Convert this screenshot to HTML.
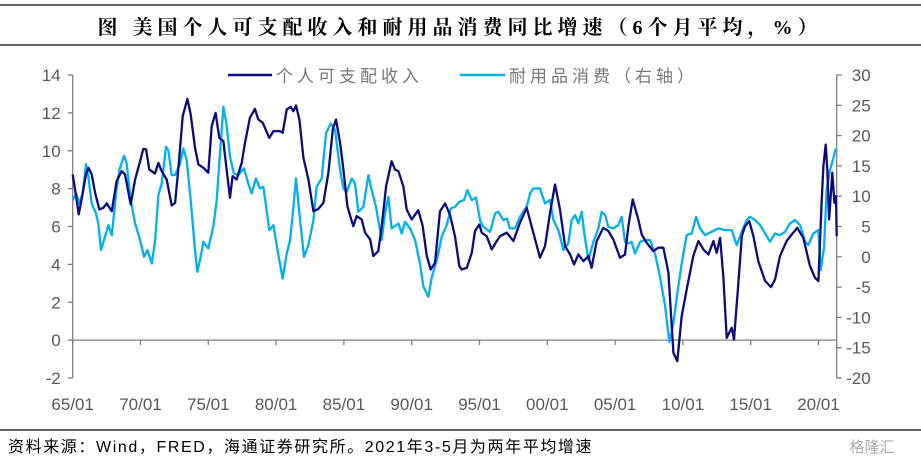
<!DOCTYPE html>
<html><head><meta charset="utf-8">
<style>
html,body{margin:0;padding:0;background:#fff;}
body{width:921px;height:465px;overflow:hidden;position:relative;font-family:"Liberation Sans","Noto Sans CJK SC",sans-serif;}
svg text{font-family:"Liberation Sans","Noto Sans CJK SC",sans-serif;}
</style></head>
<body>
<svg id="chart" width="921" height="465" viewBox="0 0 921 465" xmlns="http://www.w3.org/2000/svg">
  <line x1="0" y1="5" x2="921" y2="5" stroke="#000" stroke-width="1.2"/>
  <text x="460" y="34" text-anchor="middle" font-size="20" font-weight="bold" letter-spacing="5" style="font-family:'Liberation Serif','Noto Serif CJK SC',serif" fill="#000">图  美国个人可支配收入和耐用品消费同比增速（6个月平均，%）</text>
  <line x1="0" y1="45" x2="921" y2="45" stroke="#000" stroke-width="1.2"/>
  <g id="axes"></g>
  <g id="series"></g>
  <g>
    <line x1="228" y1="75" x2="272" y2="75" stroke="#0B0B7F" stroke-width="2.5"/>
    <text x="276" y="82" font-size="17" letter-spacing="4" fill="#777">个人可支配收入</text>
    <line x1="460" y1="75" x2="505" y2="75" stroke="#00B0F0" stroke-width="2.5"/>
    <text x="509" y="82" font-size="17" letter-spacing="4" fill="#777">耐用品消费（右轴）</text>
  </g>
  <line x1="0" y1="430" x2="921" y2="430" stroke="#000" stroke-width="1.2"/>
  <text x="8" y="452" font-size="16" letter-spacing="1.6" fill="#000">资料来源：Wind，FRED，海通证券研究所。2021年3-5月为两年平均增速</text>
  <text x="872" y="452" font-size="15" fill="#aaa" text-anchor="middle">格隆汇</text>
</svg>
<script>
const xTickLabels = ["65/01","70/01","75/01","80/01","85/01","90/01","95/01","00/01","05/01","10/01","15/01","20/01"];
const xTickYears = [1965,1970,1975,1980,1985,1990,1995,2000,2005,2010,2015,2020];
const leftTicks = [14,12,10,8,6,4,2,0,-2];
const rightTicks = [30,25,20,15,10,5,0,-5,-10,-15,-20];
const pdiDates = [1965.00,1965.25,1965.44,1965.66,1965.98,1966.16,1966.40,1966.65,1966.97,1967.26,1967.51,1967.88,1968.24,1968.61,1968.86,1969.28,1969.60,1969.97,1970.21,1970.41,1970.65,1971.07,1971.32,1971.56,1971.93,1972.30,1972.55,1972.79,1973.11,1973.46,1973.70,1974.02,1974.27,1974.64,1975.00,1975.25,1975.54,1975.81,1976.11,1976.35,1976.60,1976.79,1977.09,1977.46,1977.71,1978.07,1978.44,1978.69,1979.01,1979.50,1979.80,1980.29,1980.49,1980.78,1981.08,1981.27,1981.47,1981.72,1982.01,1982.38,1982.75,1983.12,1983.49,1983.86,1984.18,1984.42,1984.72,1984.96,1985.26,1985.50,1985.70,1985.94,1986.31,1986.56,1986.93,1987.17,1987.54,1987.79,1988.11,1988.52,1988.77,1989.02,1989.38,1989.63,1990.00,1990.49,1990.81,1991.11,1991.40,1991.72,1992.09,1992.46,1992.82,1993.19,1993.51,1993.69,1994.06,1994.43,1994.67,1994.99,1995.16,1995.53,1995.90,1996.27,1996.51,1997.01,1997.50,1997.99,1998.48,1998.97,1999.46,1999.83,2000.20,2000.57,2000.94,2001.31,2001.68,2001.97,2002.29,2002.66,2003.03,2003.27,2003.64,2004.13,2004.50,2004.87,2005.36,2005.73,2005.98,2006.30,2006.71,2006.96,2007.33,2007.82,2008.19,2008.56,2008.93,2009.30,2009.59,2009.91,2010.28,2010.77,2011.14,2011.51,2011.88,2012.25,2012.49,2012.74,2012.98,2013.23,2013.60,2013.77,2014.09,2014.34,2014.58,2014.90,2015.20,2015.56,2016.06,2016.50,2016.79,2017.16,2017.65,2018.02,2018.44,2018.88,2019.37,2019.74,2019.99,2020.23,2020.36,2020.53,2020.65,2020.78,2020.90,2021.02,2021.17,2021.29,2021.34];
const pdiValues = [8.75,7.60,6.64,7.43,8.75,9.10,8.75,7.78,6.90,6.99,7.22,6.81,8.40,8.92,8.75,7.16,8.48,9.45,10.10,10.07,9.01,8.80,9.36,8.92,8.48,7.11,7.25,9.01,11.83,12.74,11.92,10.16,9.28,9.10,8.84,11.30,12.00,10.68,10.51,9.01,7.52,8.66,8.48,9.36,10.42,11.74,12.21,11.65,11.48,10.68,11.04,11.04,10.95,12.18,12.32,12.09,12.39,11.65,9.63,8.48,6.81,6.93,7.25,8.84,11.12,11.65,10.42,9.01,7.08,6.46,6.02,6.55,6.37,5.67,5.32,4.44,4.70,6.02,8.13,9.45,9.01,8.92,8.13,6.90,6.37,6.86,6.02,4.44,3.73,4.08,6.81,7.22,6.64,5.49,3.91,3.73,3.82,4.61,5.76,6.11,5.67,5.49,4.79,5.23,5.49,5.67,5.23,6.20,6.99,5.67,4.35,4.96,6.72,8.22,6.90,4.96,4.52,4.00,4.52,4.17,4.44,3.82,5.23,5.93,5.76,5.32,4.35,4.52,6.02,7.43,6.37,5.58,5.14,4.70,4.88,4.88,3.56,-0.67,-1.11,1.27,2.68,4.44,5.23,4.79,4.52,5.23,4.61,5.40,3.38,0.12,0.65,0.04,3.03,5.49,6.02,6.28,5.49,4.17,3.12,2.80,3.20,4.44,5.23,5.58,5.93,5.40,3.91,3.29,3.12,7.25,9.19,10.33,9.01,6.37,7.60,8.84,7.25,7.60,5.49];
const durDates = [1965.00,1965.25,1965.49,1965.74,1965.98,1966.16,1966.40,1966.72,1966.89,1967.09,1967.38,1967.63,1967.88,1968.20,1968.44,1968.79,1968.98,1969.28,1969.60,1969.97,1970.26,1970.51,1970.83,1971.07,1971.32,1971.56,1971.88,1972.05,1972.30,1972.55,1972.92,1973.16,1973.41,1973.70,1974.02,1974.19,1974.39,1974.64,1975.00,1975.37,1975.62,1975.86,1976.11,1976.35,1976.60,1976.89,1977.21,1977.63,1977.95,1978.20,1978.52,1978.81,1979.06,1979.50,1979.80,1980.10,1980.49,1980.78,1981.03,1981.27,1981.47,1981.77,1982.06,1982.38,1982.75,1982.99,1983.36,1983.68,1984.03,1984.35,1984.72,1984.96,1985.21,1985.58,1985.82,1986.07,1986.44,1986.81,1987.05,1987.37,1987.79,1988.03,1988.28,1988.52,1989.02,1989.26,1989.51,1989.88,1990.25,1990.61,1990.86,1991.23,1991.48,1991.85,1992.21,1992.58,1992.88,1993.20,1993.51,1993.86,1994.11,1994.43,1994.74,1995.04,1995.29,1995.78,1996.15,1996.39,1996.76,1997.01,1997.25,1997.62,1997.99,1998.48,1998.73,1998.97,1999.46,1999.83,2000.20,2000.45,2000.82,2001.19,2001.55,2001.80,2002.05,2002.29,2002.54,2002.73,2003.03,2003.40,2003.77,2004.01,2004.26,2004.50,2004.87,2005.24,2005.49,2005.73,2005.98,2006.22,2006.47,2006.84,2007.21,2007.58,2007.94,2008.31,2008.68,2009.00,2009.30,2009.59,2009.91,2010.28,2010.65,2010.97,2011.26,2011.63,2012.12,2012.61,2013.11,2013.60,2013.97,2014.34,2014.70,2014.95,2015.32,2015.69,2016.06,2016.42,2016.79,2017.16,2017.53,2017.90,2018.27,2018.64,2019.01,2019.25,2019.62,2019.99,2020.16,2020.41,2020.60,2020.85,2021.09,2021.27];
const durValues = [9.35,10.45,8.80,10.45,15.29,13.20,8.80,7.15,5.50,1.10,3.30,5.23,3.58,10.45,14.30,16.67,15.40,9.35,5.50,2.75,0,1.10,-1.10,2.48,10.18,12.10,18.15,17.60,13.48,13.48,15.40,17.88,15.95,9.35,1.10,-2.48,-0.55,2.48,1.38,4.95,9.35,17.05,24.75,21.73,16.50,13.75,13.48,14.58,12.10,10.45,12.93,11.28,11.55,4.40,5.23,1.10,-3.58,0.55,2.75,7.98,12.93,6.05,0,1.93,6.05,11.55,12.93,20.35,22.00,20.90,14.30,11.28,10.73,12.93,12.10,7.43,8.25,13.48,11.00,8.25,2.75,7.15,9.90,4.68,5.50,3.85,5.78,4.68,2.75,-1.10,-4.95,-6.60,-3.30,-0.55,3.30,5.23,7.98,8.25,9.08,9.35,11.00,9.35,9.79,6.05,4.95,4.13,7.15,7.43,6.05,6.33,4.68,4.68,6.60,8.25,10.45,11.28,11.28,8.80,9.35,6.05,4.40,1.10,2.20,6.05,6.88,5.50,7.43,3.85,-0.55,2.48,4.68,7.43,6.88,4.95,4.68,5.23,6.60,2.48,2.20,2.48,0.55,2.48,2.75,2.75,0.55,-3.30,-7.98,-14.03,-11.00,-6.05,-1.10,3.58,3.85,6.60,4.68,3.58,4.13,4.68,4.40,4.40,1.93,4.13,6.05,6.60,6.05,5.23,3.85,2.48,3.85,3.58,4.13,5.50,6.05,5.23,2.48,1.93,3.85,4.40,-2.20,1.65,11.00,14.30,16.23,17.88];

const X0 = 72.7, PX_PER_YEAR = 13.56, YL_TOP = 75, YL_BOT = 378;
function xScale(yr){ return X0 + (yr - 1965) * PX_PER_YEAR; }
function yLeft(v){ return YL_BOT - (v - (-2)) / 16 * (YL_BOT - YL_TOP); }
function yRight(v){ return YL_BOT - (v - (-20)) / 50 * (YL_BOT - YL_TOP); }
const NS = "http://www.w3.org/2000/svg";
const axes = document.getElementById('axes');
const series = document.getElementById('series');
function mk(tag, attrs, parent){ const e = document.createElementNS(NS, tag); for (const k in attrs) e.setAttribute(k, attrs[k]); parent.appendChild(e); return e; }

const gridCol = "#808080";
let la = mk('line', {x1:X0, y1:YL_TOP, x2:X0, y2:YL_BOT, stroke:gridCol, 'stroke-width':1.3}, axes);


leftTicks.forEach(v => {
  const y = yLeft(v);
  const t = mk('line', {x1:X0-5, y1:y, x2:X0, y2:y, stroke:gridCol, 'stroke-width':1.3}, axes);
  
  
  const l = mk('text', {x:X0-12, y:y+6, 'text-anchor':'end', 'font-size':17, fill:'#595959'}, axes);
  l.textContent = v;
  
  
});
const XRA = 836.7;
let ra = mk('line', {x1:XRA, y1:YL_TOP, x2:XRA, y2:YL_BOT, stroke:gridCol, 'stroke-width':1.3}, axes);


rightTicks.forEach(v => {
  const y = yRight(v);
  const t = mk('line', {x1:XRA, y1:y, x2:XRA+5, y2:y, stroke:gridCol, 'stroke-width':1.3}, axes);
  
  
  const l = mk('text', {x:XRA+34, y:y+6, 'text-anchor':'end', 'font-size':17, fill:'#595959'}, axes);
  l.textContent = v;
  
  
});
const y0 = yLeft(0);
let xa = mk('line', {x1:X0, y1:y0, x2:XRA, y2:y0, stroke:gridCol, 'stroke-width':1.3}, axes);


xTickYears.forEach((yr, i) => {
  const x = xScale(yr);
  const t = mk('line', {x1:x, y1:y0, x2:x, y2:y0+5, stroke:gridCol, 'stroke-width':1.3}, axes);
  
  
  const l = mk('text', {x:x, y:410, 'text-anchor':'middle', 'font-size':17, fill:'#595959'}, axes);
  l.textContent = xTickLabels[i];
  
  
});
function path(dates, vals, yf){ return dates.map((d,i)=> (i?'L':'M') + xScale(d).toFixed(1) + ',' + yf(vals[i]).toFixed(1)).join(''); }
const pd = mk('path', {d:path(durDates, durValues, yRight), fill:'none', stroke:'#00B0F0', 'stroke-width':2.3, 'stroke-linejoin':'round'}, series);


const pp = mk('path', {d:path(pdiDates, pdiValues, yLeft), fill:'none', stroke:'#0B0B7F', 'stroke-width':2.3, 'stroke-linejoin':'round'}, series);


</script>
</body></html>
